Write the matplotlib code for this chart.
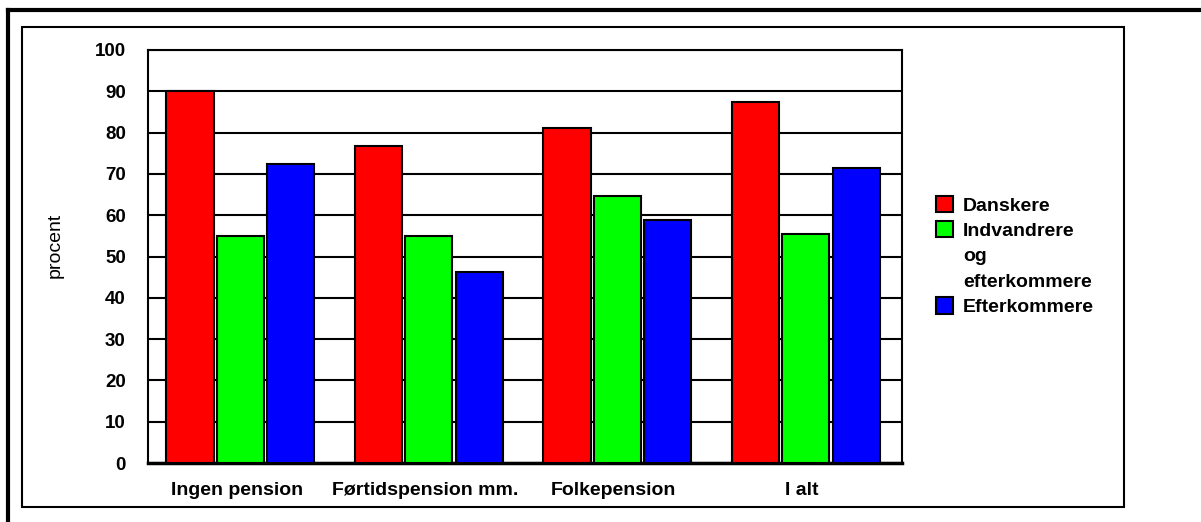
import matplotlib.pyplot as plt
import numpy as np
from matplotlib.lines import Line2D
from matplotlib.patches import Rectangle

plt.rcParams['font.family'] = ['Liberation Sans', 'DejaVu Sans']

categories = ["Ingen pension", "Førtidspension mm.", "Folkepension", "I alt"]
series_names = ["Danskere", "Indvandrere og efterkommere", "Efterkommere"]
danskere = [90.0, 76.8, 81.2, 87.5]
indvandrere = [55.0, 55.0, 64.7, 55.5]
efterkommere = [72.4, 46.3, 58.8, 71.5]
colors = ["#ff0000", "#00ff00", "#0000ff"]

W, H = 1201, 522
fig = plt.figure(figsize=(W / 100, H / 100), dpi=100)

# outer frame (only top and left edges are inside the picture)
fig.add_artist(Line2D([8 / W, 1], [1 - 10 / H, 1 - 10 / H], color='black', lw=3))
fig.add_artist(Line2D([8 / W, 8 / W], [0, 1 - 10 / H], color='black', lw=3))
# inner box
fig.add_artist(Rectangle((22 / W, 1 - 507 / H), (1124 - 22) / W, (507 - 27) / H,
                         fill=False, edgecolor='black', lw=1.5))

ax = fig.add_axes([148 / W, 1 - 463 / H, (902 - 148) / W, (463 - 50) / H])

x = np.arange(len(categories))
step = 0.267
data = [danskere, indvandrere, efterkommere]
bars = []
for i, (vals, c) in enumerate(zip(data, colors)):
    b = ax.bar(x + (i - 1) * step - 0.01, vals, width=0.25, color=c,
               edgecolor='black', linewidth=1.5, zorder=3)
    bars.append(b)

ax.set_xlim(-0.5, 3.5)
ax.set_ylim(0, 100)
ax.set_yticks(np.arange(0, 101, 10))
ax.yaxis.grid(True, color='black', lw=1.5, zorder=0)
ax.set_xticks(x - 0.03)
ax.set_xticklabels(categories, fontweight='bold', fontsize=14)
for lab in ax.get_yticklabels():
    lab.set_fontweight('bold')
    lab.set_fontsize(13.5)
ax.tick_params(axis='both', length=0)
ax.tick_params(axis='x', pad=14)
ax.tick_params(axis='y', pad=16)
for s in ['top', 'right', 'left']:
    ax.spines[s].set_linewidth(1.5)
ax.spines['bottom'].set_linewidth(2.5)
ax.set_ylabel("procent", fontsize=14)
ax.yaxis.set_label_coords(-0.112, 0.526)

# legend: the long name wraps onto three lines, square next to the first
blank = Rectangle((0, 0), 1, 1, fill=False, edgecolor='none')
handles = [bars[0], bars[1], blank, blank, bars[2]]
labels = [series_names[0], "Indvandrere", "og", "efterkommere", series_names[2]]
leg = ax.legend(handles, labels, loc='center left', bbox_to_anchor=(1.032, 0.501),
                frameon=False, prop={'weight': 'bold', 'size': 14},
                handlelength=0.9, handleheight=0.9, handletextpad=0.5,
                labelspacing=0.34, borderpad=0)

fig.savefig("out.png", dpi=100)
